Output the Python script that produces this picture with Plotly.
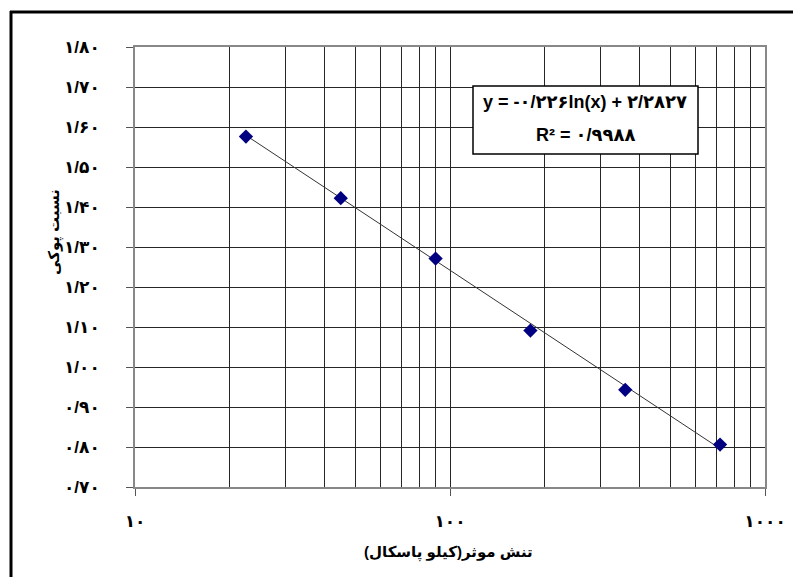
"""
    Void ratio vs effective stress (semi-log) with logarithmic trendline
"""
import numpy as np
import plotly.graph_objects as go

# data
STRESS_KPA = [22.5, 45, 90, 180, 360, 720]
VOID_RATIO = [1.576, 1.422, 1.271, 1.091, 0.943, 0.806]

# trendline coefficients shown on the chart: y = a*ln(x) + b
FIT_A = -0.226
FIT_B = 2.2827

Y_TICKS = [0.70, 0.80, 0.90, 1.00, 1.10, 1.20, 1.30, 1.40, 1.50, 1.60, 1.70, 1.80]
Y_TICK_TEXT = ["۰/۷۰", "۰/۸۰", "۰/۹۰", "۱/۰۰", "۱/۱۰", "۱/۲۰",
               "۱/۳۰", "۱/۴۰", "۱/۵۰", "۱/۶۰", "۱/۷۰", "۱/۸۰"]
X_TICKS = [10, 100, 1000]
X_TICK_TEXT = ["۱۰", "۱۰۰", "۱۰۰۰"]
X_MINOR = [m * d for d in (10, 100) for m in range(2, 10)]

X_TITLE = "تنش موثر(کیلو پاسکال)"
Y_TITLE = "نسبت پوکی"
EQ_TEXT = "y = -۰/۲۲۶ln(x) + ۲/۲۸۲۷"
R2_TEXT = "R² = ۰/۹۹۸۸"

FONT = "Liberation Sans, DejaVu Sans, Arial, sans-serif"
GRID = "#262626"

# page has an 8px body margin; layout below is in page pixels
OFF = 8
W, H = 801 - OFF, 577 - OFF
# plot area on the page: x 135..765, y 47..487
L, R, T, B = 135 - OFF, W - (765 - OFF), 47 - OFF, H - (487 - OFF)
PW, PH = W - L - R, H - T - B


def px_x(px):
    return (px - OFF - L) / PW


def px_y(py):
    return (H - B - (py - OFF)) / PH


def label(fig, x, y, text, size, angle=0):
    fig.add_annotation(
        x=px_x(x), y=px_y(y), xref="paper", yref="paper",
        text=text, showarrow=False, textangle=angle,
        xanchor="center", yanchor="middle",
        font=dict(size=size, color="black", family=FONT, weight="bold"),
    )


fit_x = np.array([STRESS_KPA[0], STRESS_KPA[-1]])
fit_y = FIT_A * np.log(fit_x) + FIT_B

fig = go.Figure()
fig.add_trace(go.Scatter(
    x=fit_x, y=fit_y, mode="lines",
    line=dict(color="#333333", width=1), hoverinfo="skip",
))
fig.add_trace(go.Scatter(
    x=STRESS_KPA, y=VOID_RATIO, mode="markers",
    marker=dict(symbol="diamond", size=11, color="#000080"),
))

tick_font = dict(size=17, color="black", family=FONT, weight="bold")

fig.update_xaxes(
    type="log", range=[1, 3],
    tickmode="array", tickvals=X_TICKS, ticktext=X_TICK_TEXT,
    ticks="outside", ticklen=7, tickcolor="#555",
    ticklabelstandoff=11,
    tickfont=tick_font,
    showgrid=True, gridcolor=GRID, gridwidth=1,
    minor=dict(tickvals=X_MINOR, showgrid=True, gridcolor=GRID, ticks=""),
    showline=True, linecolor="#888", linewidth=1.5, mirror=True,
    zeroline=False,
)
fig.update_yaxes(
    range=[0.7, 1.8],
    tickmode="array", tickvals=Y_TICKS, ticktext=Y_TICK_TEXT,
    ticks="outside", ticklen=7, tickcolor="#555",
    ticklabelstandoff=23,
    tickfont=tick_font,
    showgrid=True, gridcolor=GRID, gridwidth=1,
    showline=True, linecolor="#888", linewidth=1.5, mirror=True,
    zeroline=False,
)

# outer frame (top and left edges visible)
fig.add_shape(type="line", xref="paper", yref="paper",
              x0=px_x(10), x1=px_x(810), y0=px_y(12), y1=px_y(12),
              line=dict(color="black", width=3))
fig.add_shape(type="line", xref="paper", yref="paper",
              x0=px_x(11), x1=px_x(11), y0=px_y(11), y1=px_y(590),
              line=dict(color="black", width=3))

# equation box
fig.add_shape(type="rect", xref="paper", yref="paper",
              x0=px_x(473), x1=px_x(698), y0=px_y(154), y1=px_y(86),
              line=dict(color="black", width=1.5), fillcolor="white",
              layer="above")
label(fig, 585, 102, EQ_TEXT, 18)
label(fig, 585, 135, R2_TEXT, 18)

# axis titles
label(fig, 448, 552, X_TITLE, 15)
label(fig, 55, 232, Y_TITLE, 15, angle=-90)

fig.update_layout(
    width=W, height=H,
    margin=dict(l=L, r=R, t=T, b=B),
    plot_bgcolor="white", paper_bgcolor="white",
    showlegend=False,
)

fig.write_html("out.html")
